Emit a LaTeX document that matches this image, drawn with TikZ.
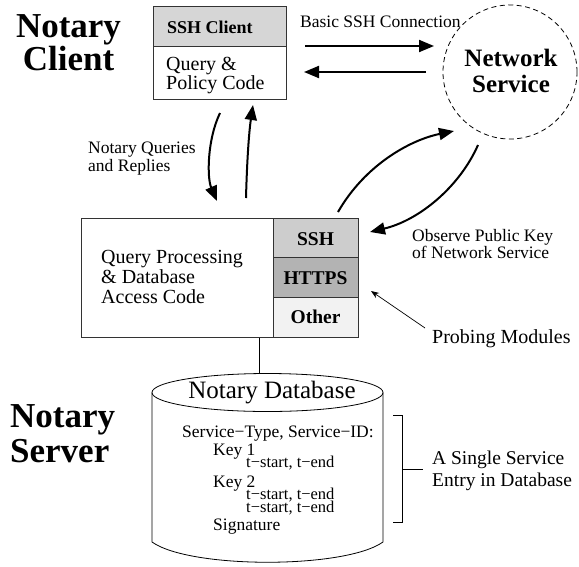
\documentclass[tikz,border=0pt]{standalone}
\usepackage{fontspec}
\setmainfont{Liberation Serif}
\usetikzlibrary{arrows.meta}
\definecolor{boxline}{HTML}{333333}
\definecolor{hdrgray}{HTML}{D6D6D6}
\definecolor{sshgray}{HTML}{CDCDCD}
\definecolor{httpsgray}{HTML}{B3B3B3}
\definecolor{othergray}{HTML}{F2F2F2}
\tikzset{
  txt/.style={inner sep=0pt, anchor=base west},
  ctxt/.style={inner sep=0pt, anchor=base},
  bigtitle/.style={font=\fontsize{35}{35}\selectfont\bfseries},
  lab/.style={font=\fontsize{17.5}{17.5}\selectfont},
  smalllab/.style={font=\fontsize{16.5}{16.5}\selectfont},
  midtxt/.style={font=\fontsize{20}{20}\selectfont},
  modtxt/.style={font=\fontsize{19.5}{19.5}\selectfont\bfseries},
  boxstyle/.style={draw=boxline, line width=1pt, rectangle, inner sep=0pt},
  bigarrow/.style={line width=2pt, -{Triangle[length=15pt,width=12pt]}},
  thinarrow/.style={line width=0.7pt, -{Stealth[length=8pt,width=6pt]}},
}
\begin{document}
\begin{tikzpicture}[x=1pt,y=-1pt]
\useasboundingbox (0,0) rectangle (579,566);

% titles
\node[ctxt,bigtitle] (nc1) at (68.5,37) {Notary};
\node[ctxt,bigtitle] (nc2) at (68.5,70) {Client};
\node[txt,bigtitle] (ns1) at (10,427) {Notary};
\node[txt,bigtitle] (ns2) at (10,462) {Server};

% client box
\node[boxstyle, fill=hdrgray, minimum width=133pt, minimum height=40pt] (clienthdr) at (219.5,26) {};
\node[boxstyle, minimum width=133pt, minimum height=53pt] (clientbody) at (219.5,72.5) {};
\node[txt,font=\fontsize{18}{18}\selectfont\bfseries] (sshclient) at (167,33) {SSH Client};
\node[txt,midtxt] (qp1) at (166,70) {Query \&};
\node[txt,midtxt] (qp2) at (166,89) {Policy Code};

% network service
\node[draw, circle, dashed, dash pattern=on 5pt off 3.5pt, line width=0.8pt, minimum size=134pt, inner sep=0pt] (net) at (510,72) {};
\node[ctxt,font=\fontsize{25}{25}\selectfont\bfseries] (net1) at (511,66) {Network};
\node[ctxt,font=\fontsize{25}{25}\selectfont\bfseries] (net2) at (511,92) {Service};

\node[txt,font=\fontsize{17.5}{17.5}\selectfont] (basic) at (300,27) {Basic SSH Connection};

% horizontal arrows
\coordinate (ha1s) at (305,46);
\coordinate (ha1e) at (434,46);
\coordinate (ha2s) at (426,72);
\coordinate (ha2e) at (304,72);
\draw[bigarrow] (ha1s) -- (ha1e);
\draw[bigarrow] (ha2s) -- (ha2e);

% client <-> server arrows
\coordinate (qa1s) at (220,113);
\coordinate (qa1e) at (217,201);
\coordinate (qa2s) at (246,198);
\coordinate (qa2e) at (253,105);
\draw[bigarrow] (qa1s) .. controls (207,140) and (207,178) .. (qa1e);
\draw[bigarrow] (qa2s) .. controls (247,160) and (249,132) .. (qa2e);
\node[txt,lab] (nq1) at (88,153) {Notary Queries};
\node[txt,lab] (nq2) at (88,171) {and Replies};

% server box
\node[boxstyle, minimum width=192pt, minimum height=119pt] (server) at (177,277.5) {};
\node[txt,midtxt] (sp1) at (101,263) {Query Processing};
\node[txt,midtxt] (sp2) at (101,283) {\& Database};
\node[txt,midtxt] (sp3) at (101,303) {Access Code};

\node[boxstyle, fill=sshgray, minimum width=85pt, minimum height=39.5pt] (ssh) at (315.5,237.75) {};
\node[boxstyle, fill=httpsgray, minimum width=85pt, minimum height=39.5pt] (https) at (315.5,277.25) {};
\node[boxstyle, fill=othergray, minimum width=85pt, minimum height=40pt] (other) at (315.5,317) {};
\node[ctxt,modtxt] (sshl) at (315.5,245) {SSH};
\node[ctxt,modtxt] (httpsl) at (315.5,284) {HTTPS};
\node[ctxt,modtxt] (otherl) at (315.5,323) {Other};

% server <-> network arrows
\coordinate (na1s) at (338,212);
\coordinate (na1e) at (454,131);
\coordinate (na2s) at (478,145);
\coordinate (na2e) at (370,232);
\draw[bigarrow] (na1s) .. controls (365,165) and (410,140) .. (na1e);
\draw[bigarrow] (na2s) .. controls (460,186) and (420,220) .. (na2e);
\node[txt,lab] (obs1) at (412,241) {Observe Public Key};
\node[txt,lab] (obs2) at (412,258) {of Network Service};

% probing modules
\node[txt,midtxt] (probe) at (432,343) {Probing Modules};
\coordinate (pas) at (425,328);
\coordinate (pae) at (371,291);
\draw[thinarrow] (pas) -- (pae);

% database cylinder
\coordinate (dbtop) at (259,373.5);
\draw[line width=0.8pt] (dbtop |- server.south) -- (dbtop);
\draw[line width=0.8pt] (152,392.5) -- (152,542) .. controls (190,569) and (345,569) .. (383,542) -- (383,392.5);
\draw[line width=0.8pt] (267.5,392.5) ellipse [x radius=115.5, y radius=19];
\node[ctxt,font=\fontsize{25}{25}\selectfont] (dbname) at (272,398) {Notary Database};

\node[txt,lab] (e1) at (182,437) {Service−Type, Service−ID:};
\node[txt,lab] (e2) at (213,455) {Key 1};
\node[txt,smalllab] (e3) at (246,467) {t−start, t−end};
\node[txt,lab] (e4) at (213,487) {Key 2};
\node[txt,smalllab] (e5) at (246,499) {t−start, t−end};
\node[txt,smalllab] (e6) at (246,512) {t−start, t−end};
\node[txt,lab] (e7) at (213,530) {Signature};

% bracket
\coordinate (bt) at (402,415);
\coordinate (bb) at (402,522);
\coordinate (bm) at (402,469);
\coordinate (bme) at (423,469);
\draw[line width=0.8pt] ([xshift=-9pt]bt) -- (bt) -- (bb) -- ([xshift=-9pt]bb);
\draw[line width=0.8pt] (bm) -- (bme);
\node[txt,font=\fontsize{19.5}{19.5}\selectfont] (single1) at (432,464) {A Single Service};
\node[txt,font=\fontsize{19.5}{19.5}\selectfont] (single2) at (432,486) {Entry in Database};
\end{tikzpicture}
\end{document}
